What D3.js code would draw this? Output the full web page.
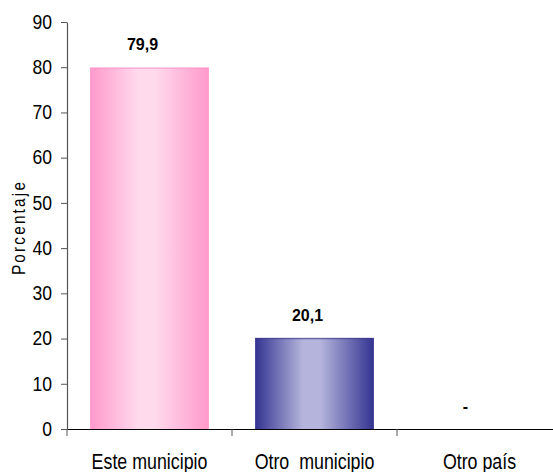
<!DOCTYPE html>
<html>
<head>
<meta charset="utf-8">
<script src="https://cdn.jsdelivr.net/npm/d3@7"></script>
<style>
  body { margin: 0; background: #fff; }
  svg text { font-family: "Liberation Sans", Arial, sans-serif; white-space: pre; }
</style>
</head>
<body>
<div id="chart"></div>
<script>
// chart values
let categories = ["Este municipio", "Otro  municipio", "Otro país"];
let values = [79.9, 20.1, null];
let valueLabels = ["79,9", "20,1", "-"];
let yTicks = [0, 10, 20, 30, 40, 50, 60, 70, 80, 90];

let width = 553;
let height = 472;
let margin = {top: 22, right: -9, bottom: 43, left: 67};
let plotW = width - margin.left - margin.right;
let plotH = height - margin.top - margin.bottom;

let svg = d3.select("#chart")
    .append("svg")
    .attr("width", width)
    .attr("height", height);

let defs = svg.append("defs");

// cylinder-like shading for each bar
function addGradient(id, edge, mid) {
    let g = defs.append("linearGradient")
        .attr("id", id)
        .attr("x1", "0%").attr("x2", "100%")
        .attr("y1", "0%").attr("y2", "0%");
    g.append("stop").attr("offset", "0%").attr("stop-color", edge);
    g.append("stop").attr("offset", "40%").attr("stop-color", mid);
    g.append("stop").attr("offset", "55%").attr("stop-color", mid);
    g.append("stop").attr("offset", "100%").attr("stop-color", edge);
}
addGradient("gradPink", "#ff99cc", "#ffd9ec");
addGradient("gradBlue", "#333391", "#b4b4dc");
let fills = ["url(#gradPink)", "url(#gradBlue)", "none"];
let tops = ["#ff8fc6", "#2e2e88", "none"];

// narrow the text horizontally, the original uses a condensed face
function squeeze(sel, sx) {
    sel.each(function () {
        let t = d3.select(this);
        let tx = +t.attr("x") || 0;
        t.attr("x", 0).attr("transform", `translate(${tx},0) scale(${sx},1)`);
    });
}

let g = svg.append("g")
    .attr("transform", `translate(${margin.left},${margin.top})`);

let x = d3.scaleBand()
    .domain(categories)
    .range([0, plotW])
    .paddingInner(0.28)
    .paddingOuter(0.14);

let xTicks = d3.scaleBand()
    .domain(categories)
    .range([0, plotW]);

let y = d3.scaleLinear()
    .domain([0, 90])
    .range([plotH, 0]);

// bars
g.selectAll(".bar")
    .data(categories)
    .join("rect")
    .attr("class", "bar")
    .attr("x", d => x(d))
    .attr("width", x.bandwidth())
    .attr("y", (d, i) => values[i] == null ? plotH : y(values[i]))
    .attr("height", (d, i) => values[i] == null ? 0 : plotH - y(values[i]))
    .attr("fill", (d, i) => fills[i]);

g.selectAll(".bartop")
    .data(categories.filter((d, i) => values[i] != null))
    .join("line")
    .attr("class", "bartop")
    .attr("x1", d => x(d))
    .attr("x2", d => x(d) + x.bandwidth())
    .attr("y1", (d, i) => y(values[i]) + 0.5)
    .attr("y2", (d, i) => y(values[i]) + 0.5)
    .attr("stroke", (d, i) => tops[i])
    .attr("stroke-opacity", 0.6)
    .attr("stroke-width", 1.5);

// value labels
g.selectAll(".val")
    .data(categories)
    .join("text")
    .attr("class", "val")
    .attr("x", (d, i) => x(d) + x.bandwidth() / 2 - (values[i] == null ? 14 : 7))
    .attr("y", (d, i) => values[i] == null ? y(0) - 17 : y(values[i]) - 17.5)
    .attr("text-anchor", "middle")
    .style("font-size", "16px")
    .style("font-weight", "bold")
    .text((d, i) => valueLabels[i]);

// y axis
let yAxis = g.append("g")
    .call(d3.axisLeft(y).tickValues(yTicks).tickSize(6).tickPadding(9).tickSizeOuter(0));
yAxis.select(".domain").attr("stroke", "#555").attr("stroke-width", 1.2);
yAxis.selectAll(".tick line").attr("stroke", "#555");
yAxis.selectAll(".tick text")
    .style("font-size", "19.5px")
    .attr("fill", "#000")
    .call(squeeze, 0.9);

// x axis
let xAxis = g.append("g")
    .attr("transform", `translate(0,${plotH})`)
    .call(d3.axisBottom(xTicks).tickSize(0).tickSizeOuter(0));
xAxis.select(".domain").attr("stroke", "#000").attr("stroke-width", 1.2);
xAxis.selectAll(".tick text")
    .attr("y", 40)
    .attr("dy", 0)
    .style("font-size", "22px")
    .attr("fill", "#000")
    .call(squeeze, 0.81);

// category separators below the axis
g.selectAll(".sep")
    .data(categories)
    .join("line")
    .attr("class", "sep")
    .attr("x1", d => xTicks(d))
    .attr("x2", d => xTicks(d))
    .attr("y1", plotH)
    .attr("y2", plotH + 7)
    .attr("stroke", "#555");

// y label
svg.append("text")
    .attr("transform", `translate(25,${margin.top + plotH / 2 + 2}) rotate(-90) scale(0.85,1)`)
    .attr("text-anchor", "middle")
    .style("font-size", "18px")
    .style("letter-spacing", "2.6px")
    .text("Porcentaje");
</script>
</body>
</html>
